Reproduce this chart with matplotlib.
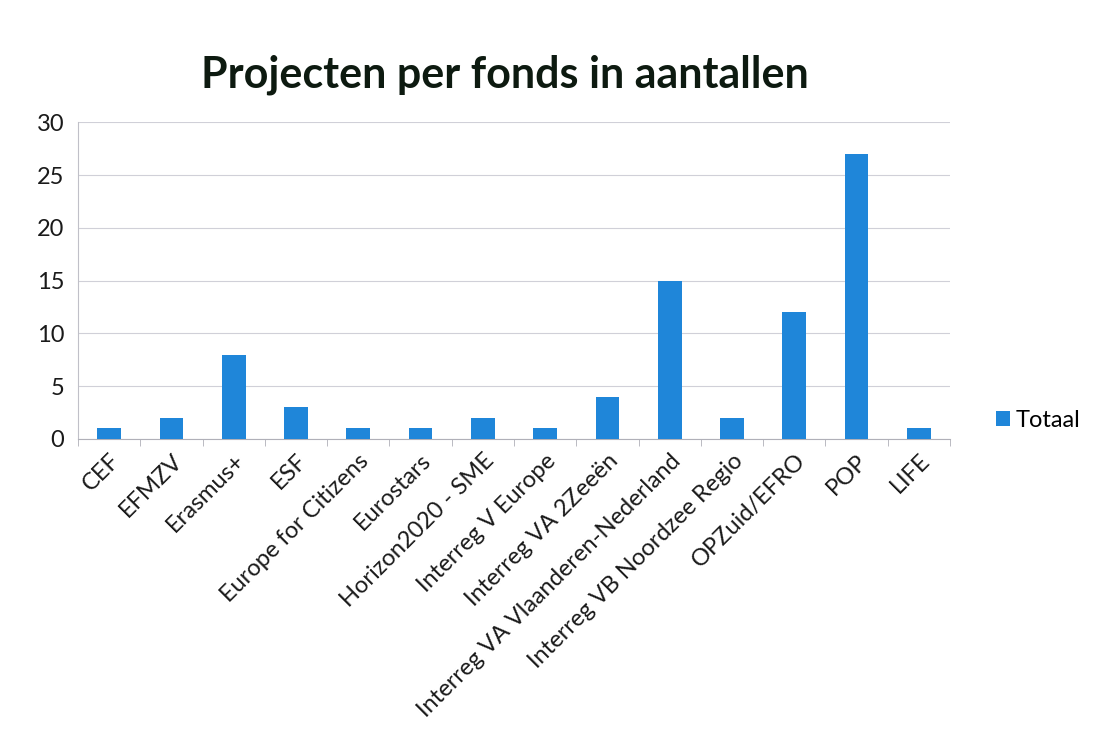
import numpy as np
import matplotlib.pyplot as plt

plt.rcParams['font.family'] = ['Lato', 'DejaVu Sans']

categories = ['CEF', 'EFMZV', 'Erasmus+', 'ESF', 'Europe for Citizens', 'Eurostars',
              'Horizon2020 - SME', 'Interreg V Europe', 'Interreg VA 2Zeeën',
              'Interreg VA Vlaanderen-Nederland', 'Interreg VB Noordzee Regio',
              'OPZuid/EFRO', 'POP', 'LIFE']
totaal = [1, 2, 8, 3, 1, 1, 2, 1, 4, 15, 2, 12, 27, 1]
yticks = [0, 5, 10, 15, 20, 25, 30]

fig = plt.figure(figsize=(10.95, 7.41), dpi=100)
ax = fig.add_axes([0.0712, 0.4076, 0.7964, 0.4274])

x = np.arange(len(categories))
ax.bar(x, totaal, width=0.38, color='#1f86d9', label='Totaal', zorder=3)

ax.set_xlim(-0.5, len(categories) - 0.5)
ax.set_ylim(0, 30)
ax.set_yticks(yticks)
ax.grid(axis='y', color='#d0d0d8', linewidth=0.8, zorder=0)

ax.set_xticks(x)
ax.set_xticklabels(categories, rotation=45, ha='right', rotation_mode='anchor', fontsize=17,
                   color='#1a1a1a')
ax.tick_params(axis='x', length=0, pad=8)
ax.set_xticks(np.arange(len(categories) + 1) - 0.5, minor=True)
ax.tick_params(axis='x', which='minor', length=5, color='#b0b0b8')
ax.tick_params(axis='y', length=0, labelsize=17, pad=10, labelcolor='#1a1a1a')

for s in ['top', 'right']:
    ax.spines[s].set_visible(False)
ax.spines['left'].set_color('#c0c0c8')
ax.spines['bottom'].set_color('#b0b0b8')

fig.text(0.461, 0.899, 'Projecten per fonds in aantallen', ha='center', va='center',
         fontsize=31, fontweight='bold', color='#0d1a10')

fig.legend(loc='center left', bbox_to_anchor=(0.907, 0.433), frameon=False, fontsize=17,
           handlelength=0.6, handleheight=0.6, handletextpad=0.25, borderpad=0.1,
           borderaxespad=0)

fig.savefig('out.png', dpi=100)
